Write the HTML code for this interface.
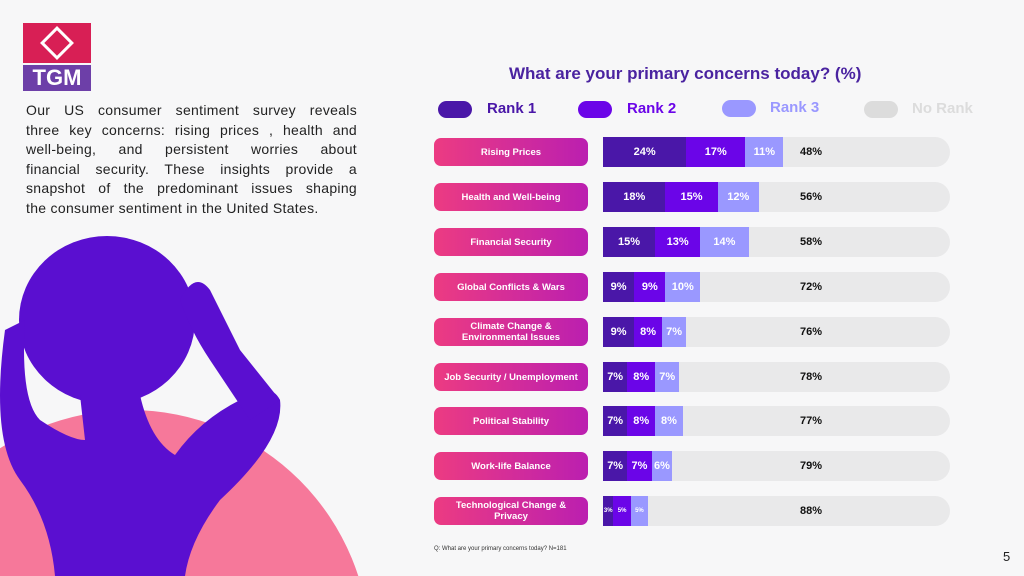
<!DOCTYPE html>
<html><head><meta charset="utf-8"><style>
html,body{margin:0;width:1024px;height:576px;overflow:hidden;}
#page{position:relative;width:1024px;height:576px;overflow:hidden;background:#f7f7f8;font-family:"Liberation Sans",sans-serif;}
.intro{position:absolute;left:26px;top:101px;width:331px;font-size:14px;line-height:19.6px;color:#222;letter-spacing:0.3px;}
.intro span{display:block;text-align:justify;text-align-last:justify;white-space:nowrap;}
.intro span.last{text-align-last:left;}
.lab{position:absolute;left:434px;width:154px;height:28px;border-radius:7px;background:linear-gradient(90deg,#ec3b82,#bb1fb0);color:#fff;font-size:9.5px;font-weight:bold;display:flex;align-items:center;justify-content:center;text-align:center;line-height:11px;}
.track{position:absolute;left:603px;width:347px;height:30px;border-radius:0 15px 15px 0;background:#e9e9ea;}
.seg{position:absolute;top:0;height:30px;color:#fff;font-size:11px;font-weight:bold;display:flex;align-items:center;justify-content:center;}
.nr{position:absolute;left:800px;font-size:11px;font-weight:bold;color:#111;}
.leg{position:absolute;top:101px;width:34px;height:17px;border-radius:9px;}
.legt{position:absolute;top:100px;font-size:15px;font-weight:bold;}
</style></head><body>
<div id="page">
<svg width="1024" height="576" style="position:absolute;left:0;top:0">
<circle cx="130" cy="650" r="240" fill="#f6789a"/>
<g fill="#5a0fd0">
<ellipse cx="107" cy="320" rx="88" ry="84"/>
<path d="M80,395 L140,395 Q150,440 175,455 Q200,420 240,400 Q270,380 280,400 Q285,440 220,500 Q190,540 185,576 L55,576 Q50,520 20,480 Q-10,440 5,330 L25,320 Q20,400 40,420 Q70,440 85,440 Z"/>
<path d="M180,300 Q195,270 210,290 Q225,320 240,350 L280,400 L250,420 L210,360 Q190,330 180,300Z"/>
</g>
</svg>
<div style="position:absolute;left:23px;top:23px;width:68px;height:68px;">
<div style="position:absolute;left:0;top:0;width:68px;height:40px;background:#d81f55"></div>
<div style="position:absolute;left:22px;top:8px;width:18px;height:18px;border:3px solid #fff;transform:rotate(45deg);"></div>
<div style="position:absolute;left:0;top:42px;width:68px;height:26px;background:#6d3fa8;color:#fff;font-weight:bold;font-size:22px;line-height:26px;text-align:center;">TGM</div>
</div>
<div class="intro"><span>Our US consumer sentiment survey reveals</span><span>three key concerns: rising prices , health and</span><span>well-being, and persistent worries about</span><span>financial security. These insights provide a</span><span>snapshot of the predominant issues shaping</span><span class="last">the consumer sentiment in the United States.</span></div>
<div style="position:absolute;left:509px;top:64px;font-size:17px;font-weight:bold;color:#4a23a0;">What are your primary concerns today? (%)</div>
<div class="leg" style="left:438px;background:#4a17a8"></div>
<div class="legt" style="left:487px;color:#4a17a8">Rank 1</div>
<div class="leg" style="left:578px;background:#6b05e8"></div>
<div class="legt" style="left:627px;color:#6b05e8">Rank 2</div>
<div class="leg" style="left:722px;background:#9a98ff;top:100px"></div>
<div class="legt" style="left:770px;color:#9a98ff;top:99px">Rank 3</div>
<div class="leg" style="left:864px;background:#dcdcdc"></div>
<div class="legt" style="left:912px;color:#dcdcdc">No Rank</div>
<div style="position:absolute;left:434px;top:546px;font-size:6px;color:#333;">Q: What are your primary concerns today? N=181</div>
<div style="position:absolute;left:1003px;top:549px;font-size:13px;color:#222;">5</div>
</div>
<script>
const categories=["Rising Prices","Health and Well-being","Financial Security","Global Conflicts & Wars","Climate Change &<br>Environmental Issues","Job Security / Unemployment","Political Stability","Work-life Balance","Technological Change &<br>Privacy"];
const rank1=[24,18,15,9,9,7,7,7,3];
const rank2=[17,15,13,9,8,8,8,7,5];
const rank3=[11,12,14,10,7,7,8,6,5];
const noRank=[48,56,58,72,76,78,77,79,88];
const colors=["#4a17a8","#6b05e8","#9a98ff"];
const chart=document.getElementById('page');
const x0=603, pxPer=3.47, rowTop=137, rowStep=44.9;
function xs(v){return v*pxPer;}
categories.forEach((c,i)=>{
  const top=Math.round(rowTop+i*rowStep);
  const lab=document.createElement('div');lab.className='lab';lab.style.top=(top+1)+'px';lab.innerHTML=c;
  
  
  chart.appendChild(lab);
  const tr=document.createElement('div');tr.className='track';tr.style.top=top+'px';
  
  
  chart.appendChild(tr);
  let acc=0;
  [rank1[i],rank2[i],rank3[i]].forEach((v,k)=>{
    const s=document.createElement('div');s.className='seg';
    s.style.left=xs(acc)+'px';s.style.width=xs(v)+'px';s.style.background=colors[k];
    if(v<5||i==8)s.style.fontSize='6px';
    s.textContent=v+'%';
    
    
    tr.appendChild(s);acc+=v;
  });
  const n=document.createElement('div');n.className='nr';n.style.top=(top+9)+'px';n.textContent=noRank[i]+'%';
  
  
  chart.appendChild(n);
});
</script>
</body></html>
